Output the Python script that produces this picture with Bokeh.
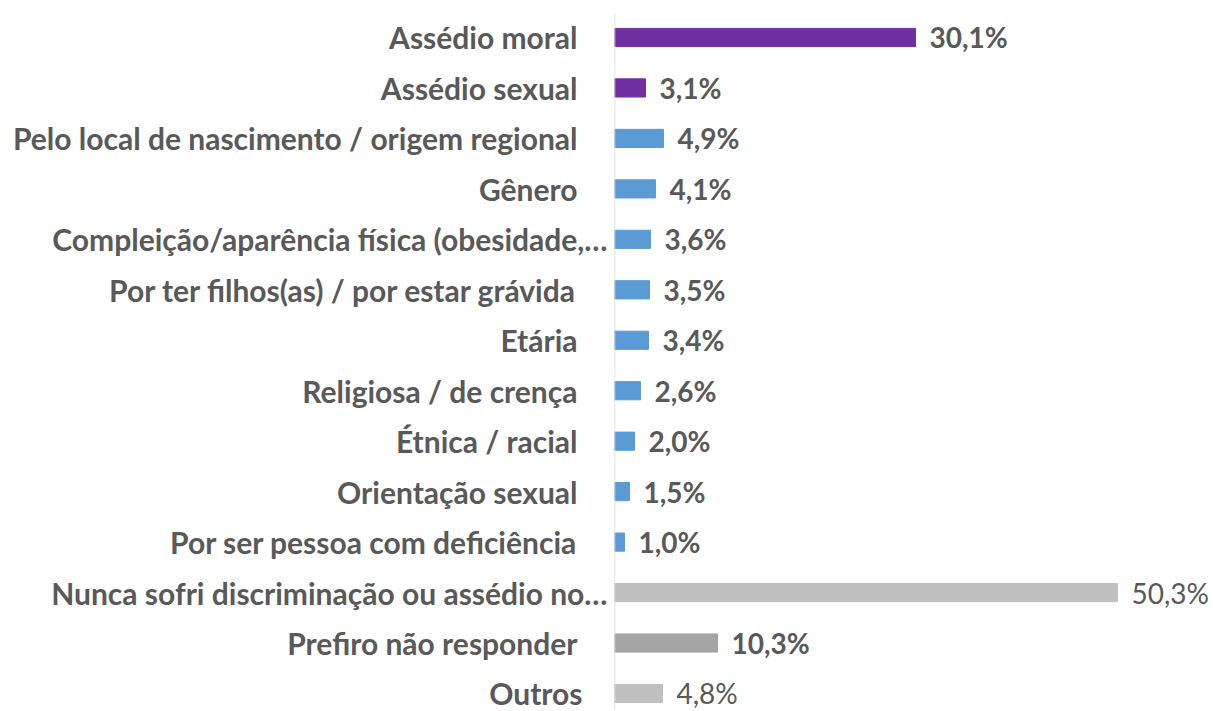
from bokeh.plotting import figure
from bokeh.models import ColumnDataSource, Range1d, FixedTicker, LinearAxis
from bokeh.layouts import row
from bokeh.embed import file_html
from bokeh.resources import INLINE
from bokeh.core.properties import value

categories = [
    "Assédio moral",
    "Assédio sexual",
    "Pelo local de nascimento / origem regional",
    "Gênero",
    "Compleição/aparência física (obesidade,…",
    "Por ter filhos(as) / por estar grávida",
    "Etária",
    "Religiosa / de crença",
    "Étnica / racial",
    "Orientação sexual",
    "Por ser pessoa com deficiência",
    "Nunca sofri discriminação ou assédio no…",
    "Prefiro não responder",
    "Outros",
]
values = [30.1, 3.1, 4.9, 4.1, 3.6, 3.5, 3.4, 2.6, 2.0, 1.5, 1.0, 50.3, 10.3, 4.8]
labels = ["30,1%", "3,1%", "4,9%", "4,1%", "3,6%", "3,5%", "3,4%", "2,6%", "2,0%",
          "1,5%", "1,0%", "50,3%", "10,3%", "4,8%"]
colors = ["#7030A0", "#7030A0"] + ["#5B9BD5"] * 9 + ["#C0C0C0", "#A5A5A5", "#C0C0C0"]
weights = ["bold"] * 11 + ["normal", "bold", "normal"]
# horizontal offset of each category label from the axis line (px)
cat_offsets = [-37, -37, -37, -37, -7, -37, -37, -37, -37, -37, -37, -7, -37, -32]

n = len(categories)
ypos = [n - 1 - i for i in range(n)]

src = ColumnDataSource(dict(y=ypos, v=values, lab=labels, col=colors, w=weights,
                            cat=categories, xo=cat_offsets, zero=[0] * n))

yr = Range1d(-0.337, n - 1 + 0.495)
H = 710
LEFT_W = 614

# label panel
pl = figure(width=LEFT_W, height=H, output_backend="svg", toolbar_location=None,
            x_range=Range1d(-1, 0), y_range=yr,
            min_border_left=0, min_border_right=0, min_border_top=12, min_border_bottom=0,
            outline_line_color=None, x_axis_location=None, y_axis_location=None)
pl.text(x="zero", y="y", text="cat", source=src, x_offset="xo",
        text_align="right", text_baseline="middle",
        text_font=value("Lato"), text_font_size="30px",
        text_font_style="bold", text_color="#595959")
pl.xgrid.visible = False
pl.ygrid.visible = False

# bar panel
p = figure(width=1210 - LEFT_W, height=H, output_backend="svg", toolbar_location=None,
           x_range=Range1d(0, 59.6), y_range=yr,
           min_border_left=0, min_border_right=0, min_border_top=12, min_border_bottom=0,
           outline_line_color=None, x_axis_location=None, y_axis_location=None)

p.hbar(y="y", right="v", left=0, height=0.36, color="col", source=src)
p.text(x="v", y="y", text="lab", source=src, x_offset=14, text_baseline="middle",
       text_align="left", text_font=value("Lato"), text_font_size="28px",
       text_font_style="w", text_color="#595959")
p.segment(x0=0, y0=yr.start, x1=0, y1=yr.end, line_color="#D9D9D9", line_width=1.5)
p.xgrid.visible = False
p.ygrid.visible = False

layout = row(pl, p, spacing=0)
open("out.html", "w").write(file_html(layout, INLINE))
